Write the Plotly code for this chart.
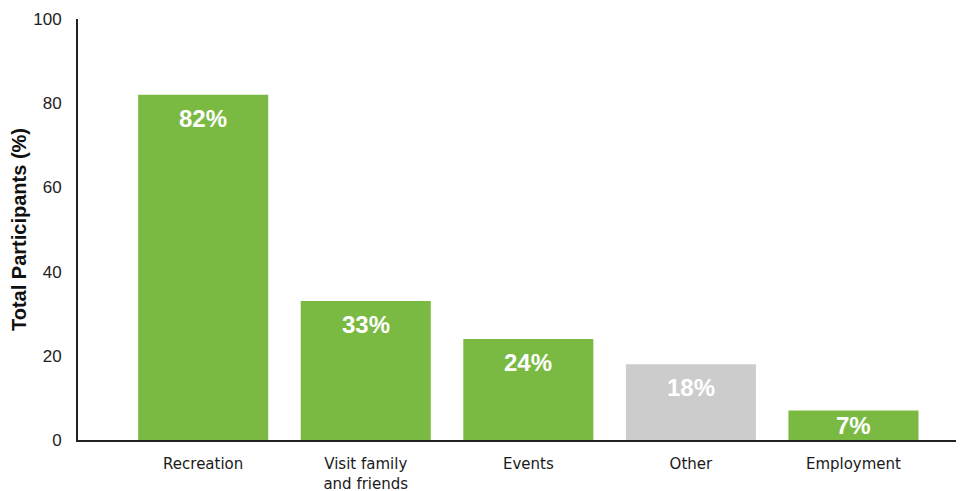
import plotly.graph_objects as go

categories = ['Recreation', 'Visit family<br>and friends', 'Events', 'Other', 'Employment']
values = [82, 33, 24, 18, 7]
labels = ['82%', '33%', '24%', '18%', '7%']
bar_colors = ['#7aba43', '#7aba43', '#7aba43', '#cccccc', '#7aba43']

# the html page has an 8px body margin, so the figure is a bit smaller than the window
W, H = 956, 483
M = dict(l=70, r=0, t=11, b=51)
plot_h = H - M['t'] - M['b']

fig = go.Figure()
fig.add_trace(go.Bar(
    x=categories, y=values,
    marker=dict(color=bar_colors, line=dict(width=0)),
    width=0.8,
    hoverinfo='x+y',
))

# value labels near the top of each bar
for cat, val, lab in zip(categories, values, labels):
    bar_px = val / 100 * plot_h
    shift = min(8, (bar_px - 30) / 2)
    fig.add_annotation(
        x=cat, y=val, text=lab, showarrow=False,
        yanchor='top', yshift=-shift,
        font=dict(family='Liberation Sans', size=24, color='white', weight='bold'),
    )

fig.update_layout(
    width=W, height=H,
    margin=M,
    paper_bgcolor='white', plot_bgcolor='white',
    showlegend=False,
    xaxis=dict(
        range=[-0.77, 4.68], automargin=False,
        showline=True, linecolor='#222222', linewidth=2,
        showgrid=False, ticks='', ticklabelstandoff=9,
        tickfont=dict(family='DejaVu Sans', size=15, color='#1a1a1a'),
    ),
    yaxis=dict(
        range=[0, 100], dtick=20, automargin=False,
        showline=True, linecolor='#222222', linewidth=2,
        showgrid=False, zeroline=False, ticks='', ticklabelstandoff=11,
        tickfont=dict(family='Liberation Sans', size=17, color='#222222'),
        title=dict(text='<b>Total Participants (%)</b>', standoff=2,
                   font=dict(family='Liberation Sans', size=20, color='#111111')),
    ),
)

fig.write_html("out.html")
